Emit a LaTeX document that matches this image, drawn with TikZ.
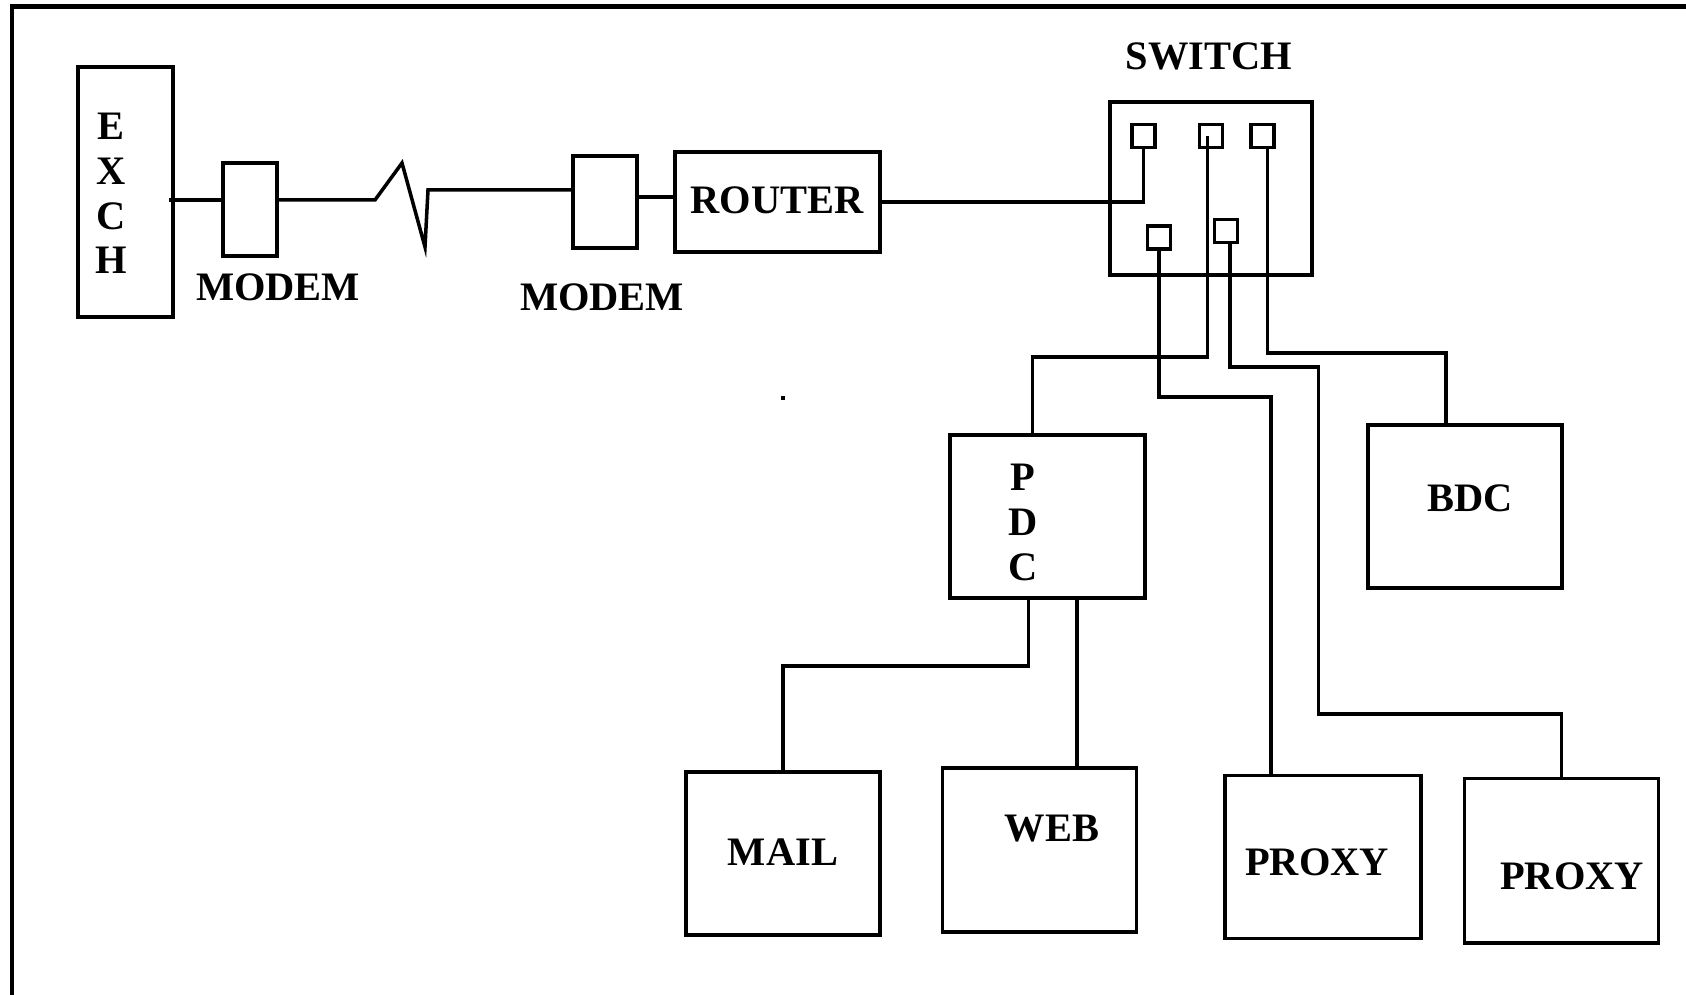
\documentclass[tikz,border=0pt]{standalone}
\usepackage{fontspec}
\setmainfont{Liberation Serif}

\begin{document}
\begin{tikzpicture}[
  x=0.01cm, y=-0.01cm,
  font=\bfseries\fontsize{11.5}{12.7}\selectfont,
  boite/.style={
    draw=black,
    line width=1pt,
    inner sep=0pt
  },
  port/.style={
    draw=black,
    line width=1pt,
    inner sep=0pt,
    minimum size=0.23cm
  },
  fil/.style={
    line width=1pt,
    draw=black
  },
  etiquette/.style={
    inner sep=0pt,
    align=center
  },
  cadre/.style={
    line width=1.3pt
  }
]
  \useasboundingbox (0,0) rectangle (1686,995);

  % Cadre (haut et gauche)
  \draw[cadre] (1686,6.5) -- (12,6.5) -- (12,995);

  % Liaison vers le routeur
  \node[boite, minimum width=0.95cm, minimum height=2.5cm] (exch) at (125.5,192) {};
  \node[boite, minimum width=0.54cm, minimum height=0.93cm] (m1) at (250,209.5) {};
  \node[boite, minimum width=0.64cm, minimum height=0.92cm] (m2) at (605,202) {};
  \node[boite, minimum width=2.05cm, minimum height=1cm] (router) at (777.5,202) {};

  \node[etiquette] (exch-t) at (111,193.5) {E\\X\\C\\H};
  \node[etiquette] (m1-t) at (278,287) {MODEM};
  \node[etiquette] (m2-t) at (602,297) {MODEM};
  \node[etiquette] (router-t) at (777,200) {ROUTER};

  % Switch et ses ports
  \node[boite, minimum width=2.02cm, minimum height=1.73cm] (switch) at (1211,188.5) {};
  \node[etiquette] (switch-t) at (1209,56) {SWITCH};
  \foreach \n/\px/\py in {p1/1143.5/136, p2/1211/136, p3/1262.5/136, p4/1159/237.5, p5/1226/231} {
    \node[port] (\n) at (\px,\py) {};
  }

  % Serveurs
  \node[boite, minimum width=1.95cm, minimum height=1.63cm] (pdc) at (1047.5,516.5) {};
  \node[boite, minimum width=1.94cm, minimum height=1.63cm] (bdc) at (1465,506.3) {};
  \node[boite, minimum width=1.94cm, minimum height=1.63cm] (mail) at (783,853.5) {};
  \node[boite, minimum width=1.94cm, minimum height=1.64cm] (web) at (1039.5,850) {};
  \node[boite, minimum width=1.96cm, minimum height=1.63cm] (px1) at (1323,857) {};
  \node[boite, minimum width=1.94cm, minimum height=1.64cm] (px2) at (1561.5,860.7) {};

  \node[etiquette] (pdc-t) at (1023,522.5) {P\\D\\C};
  \node[etiquette] (bdc-t) at (1470,498) {BDC};
  \node[etiquette] (mail-t) at (783,852) {MAIL};
  \node[etiquette] (web-t) at (1052,829) {WEB};
  \node[etiquette] (px1-t) at (1317,862) {PROXY};
  \node[etiquette] (px2-t) at (1572,876) {PROXY};

  % Points de passage
  \coordinate (z1) at (375,200);
  \coordinate (z2) at (402,163);
  \coordinate (z3) at (425,247);
  \coordinate (z4) at (428,190);
  \coordinate (k0) at (0,197);
  \coordinate (c2) at (1032.6,357);
  \coordinate (c3) at (1446,353);
  \coordinate (c4) at (1271,397);
  \coordinate (c5) at (1318.7,367);
  \coordinate (c6) at (1561.5,714);
  \coordinate (c7) at (1028.6,666);
  \coordinate (c8) at (1076.8,680);

  % Ligne téléphonique
  \draw[fil] ([xshift=-0.06cm]exch.east |- z1) -- (m1.west |- z1);
  \draw[fil] (m1.east |- z1) -- (z1) -- (z2) -- (z3) -- (z4) -- (m2.west |- z4);
  \draw[fil] (m2.east |- k0) -- (router.west |- k0);

  % Routeur vers switch
  \draw[fil] (router.east) -| (p1.south);

  % Switch vers serveurs
  \draw[fil] ([xshift=-0.035cm]p2.center) |- (c2) -- (c2 |- pdc.north);
  \draw[fil] ([xshift=0.05cm]p3.south) |- (c3) -- (c3 |- bdc.north);
  \draw[fil] (p4.south) |- (c4) -- (c4 |- px1.north);
  \draw[fil] ([xshift=0.04cm]p5.south) |- (c5) -- (c5 |- c6) -- (c6) -- (px2.north);

  % PDC vers MAIL et WEB
  \draw[fil] (c7 |- pdc.south) -- (c7) -| (mail.north);
  \draw[fil] (c8 |- pdc.south) -- (c8 |- web.north);

  \fill (781,396) rectangle (785,400);
\end{tikzpicture}
\end{document}
